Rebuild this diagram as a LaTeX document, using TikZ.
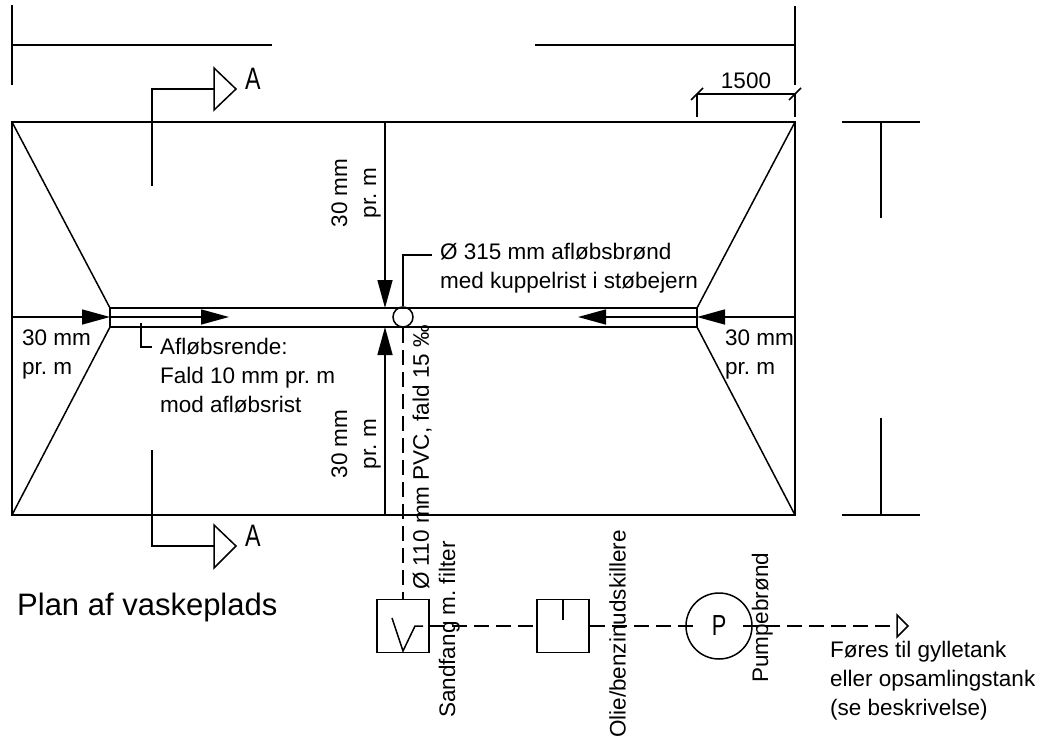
\documentclass[tikz,border=0pt]{standalone}
\usepackage{fontspec}
\setmainfont{Liberation Sans}
\usetikzlibrary{arrows.meta}
\tikzset{
  ln/.style={line width=1.7pt,black},
  thin ln/.style={line width=1.5pt,black},
  dsh/.style={line width=1.7pt,black,dash pattern=on 15pt off 7pt},
  arr/.style={line width=1.5pt,-{Triangle[length=28pt,width=15pt]}},
  txt/.style={inner sep=0pt,font=\fontsize{22.5pt}{29pt}\selectfont\frenchspacing,align=left,text=black},
  rtxt/.style={txt,rotate=90,align=center},
  big/.style={inner sep=0pt,font=\fontsize{31pt}{34pt}\selectfont},
  sec/.style={inner sep=0pt,font=\fontsize{31pt}{34pt}\selectfont},
  box/.style={draw,line width=1.7pt,minimum width=52pt,minimum height=53pt,inner sep=0pt},
  wellc/.style={draw,circle,line width=1.5pt,inner sep=0pt}
}
\begin{document}
\begin{tikzpicture}[x=1pt,y=-1pt]
\useasboundingbox (0,0) rectangle (1039,739);
% slab
\coordinate (tl) at (12,122); \coordinate (tr) at (795,122);
\coordinate (bl) at (12,515); \coordinate (br) at (795,515);
\coordinate (ctl) at (110,308); \coordinate (ctr) at (697,308);
\coordinate (cbl) at (110,327); \coordinate (cbr) at (697,327);
\draw[ln] (tl) -- (tr) -- (br) -- (bl) -- cycle;
\draw[ln] (ctl) -- (ctr) -- (cbr) -- (cbl) -- cycle;
\draw[thin ln] (tl) -- (ctl) (bl) -- (cbl) (tr) -- (ctr) (br) -- (cbr);
% fall arrows
\coordinate (ml) at (12,317); \coordinate (mr) at (795,317);
\coordinate (cl) at (110,317); \coordinate (cr) at (697,317);
\coordinate (il) at (229,317); \coordinate (ir) at (578,317);
\coordinate (vt) at (385,122); \coordinate (vte) at (385,308);
\coordinate (vb) at (385,515); \coordinate (vbe) at (385,327);
\draw[arr] (ml) -- (cl);
\draw[arr] (mr) -- (cr);
\draw[arr] (cl) -- (il);
\draw[arr] (cr) -- (ir);
\draw[arr] (vt) -- (vte);
\draw[arr] (vb) -- (vbe);
% well
\node[wellc,minimum size=20pt] (well) at (403,317) {};
\coordinate (l1) at (403,255); \coordinate (l2) at (432,255);
\draw[thin ln] (well.north) -- (l1) -- (l2);
\coordinate (r1) at (141,323); \coordinate (r2) at (141,347); \coordinate (r3) at (152,347);
\draw[thin ln] (r1) -- (r2) -- (r3);
% labels
\node[txt,anchor=west] (t315) at (440,268.5) {Ø 315 mm afløbsbrønd\\med kuppelrist i støbejern};
\node[txt,anchor=west] (trende) at (160,376) {Afløbsrende:\\Fald 10 mm pr. m\\mod afløbsrist};
\node[txt,anchor=west] (tleft) at (22,354) {30 mm\\pr. m};
\node[txt,anchor=west] (tright) at (725,354) {30 mm\\pr. m};
\node[rtxt] (ttop) at (356,193) {30 mm\\pr. m};
\node[rtxt] (tbot) at (356,444) {30 mm\\pr. m};
% top dimensions
\coordinate (d1) at (12,5); \coordinate (d2) at (12,85); \coordinate (d3) at (12,45); \coordinate (d4) at (272,45);
\coordinate (d5) at (795,6); \coordinate (d6) at (795,85); \coordinate (d7) at (535,45); \coordinate (d8) at (795,45);
\draw[thin ln] (d1) -- (d2) (d3) -- (d4) (d5) -- (d6) (d7) -- (d8);
\coordinate (e1) at (697,94); \coordinate (e2) at (795,94);
\coordinate (e3) at (697,117); \coordinate (e4) at (795,117);
\draw[thin ln] (e1) -- (e2) (e1) -- (e3) (e2) -- (e4);
\draw[thin ln] (691,100) -- (703,88) (789,100) -- (801,88);
\node[txt,anchor=base] (t1500) at (746,88) {1500};
% right dimensions
\coordinate (f1) at (842,122); \coordinate (f2) at (920,122); \coordinate (f3) at (881,122); \coordinate (f4) at (881,218);
\coordinate (f5) at (842,515); \coordinate (f6) at (920,515); \coordinate (f7) at (881,515); \coordinate (f8) at (881,418);
\draw[thin ln] (f1) -- (f2) (f3) -- (f4) (f5) -- (f6) (f7) -- (f8);
% section marks
\coordinate (s1) at (152,186); \coordinate (s2) at (152,89); \coordinate (s3) at (214,89);
\draw[thin ln] (s1) -- (s2) -- (s3);
\draw[thin ln,line join=miter] (214,68) -- (236,89) -- (214,110) -- cycle;
\node[sec,anchor=base west] (a1) at (245,89) {\scalebox{0.75}[1]{A}};
\coordinate (u1) at (152,450); \coordinate (u2) at (152,546); \coordinate (u3) at (214,546);
\draw[thin ln] (u1) -- (u2) -- (u3);
\draw[thin ln,line join=miter] (214,525) -- (236,546) -- (214,568) -- cycle;
\node[sec,anchor=base west] (a2) at (245,546) {\scalebox{0.75}[1]{A}};
% title
\node[big,anchor=base west] (title) at (17,615) {Plan af vaskeplads};
% treatment line
\node[box] (sand) at (403,626) {};
\node[box] (sep) at (563,626) {};
\node[draw,circle,line width=1.5pt,minimum size=66pt,inner sep=0pt] (pump) at (719,626) {\fontsize{29pt}{30pt}\selectfont\scalebox{0.75}[1]{P}};
\draw[thin ln] (392,618) -- (403,651) -- (415,626) -- (423,626);
\draw[thin ln] (sep.north) -- ++(0,21);
\draw[dsh] (well.south) -- (sand.north);
\draw[dsh] (sand.east) -- (sep.west);
\draw[dsh] (sep.east) -- ++(108,0);
\coordinate (tip) at (897,626);
\draw[dsh] ([xshift=-10pt]pump.east) -- (tip);
\draw[thin ln,line join=miter] (897,615) -- (908,626) -- (897,637) -- cycle;
% rotated labels
\node[rtxt,anchor=south west] (t110) at (432,590) {Ø 110 mm PVC, fald 15 ‰};
\node[rtxt,anchor=south west] (tsand) at (460,718) {Sandfang m. filter};
\node[rtxt,anchor=south west] (tsep) at (626,738) {Olie/benzinudskillere};
\node[rtxt,anchor=south west] (tpump) at (773,683) {Pumpebrønd};
\node[txt,anchor=west] (tout) at (830,681) {Føres til gylletank\\eller opsamlingstank\\(se beskrivelse)};
\end{tikzpicture}
\end{document}
